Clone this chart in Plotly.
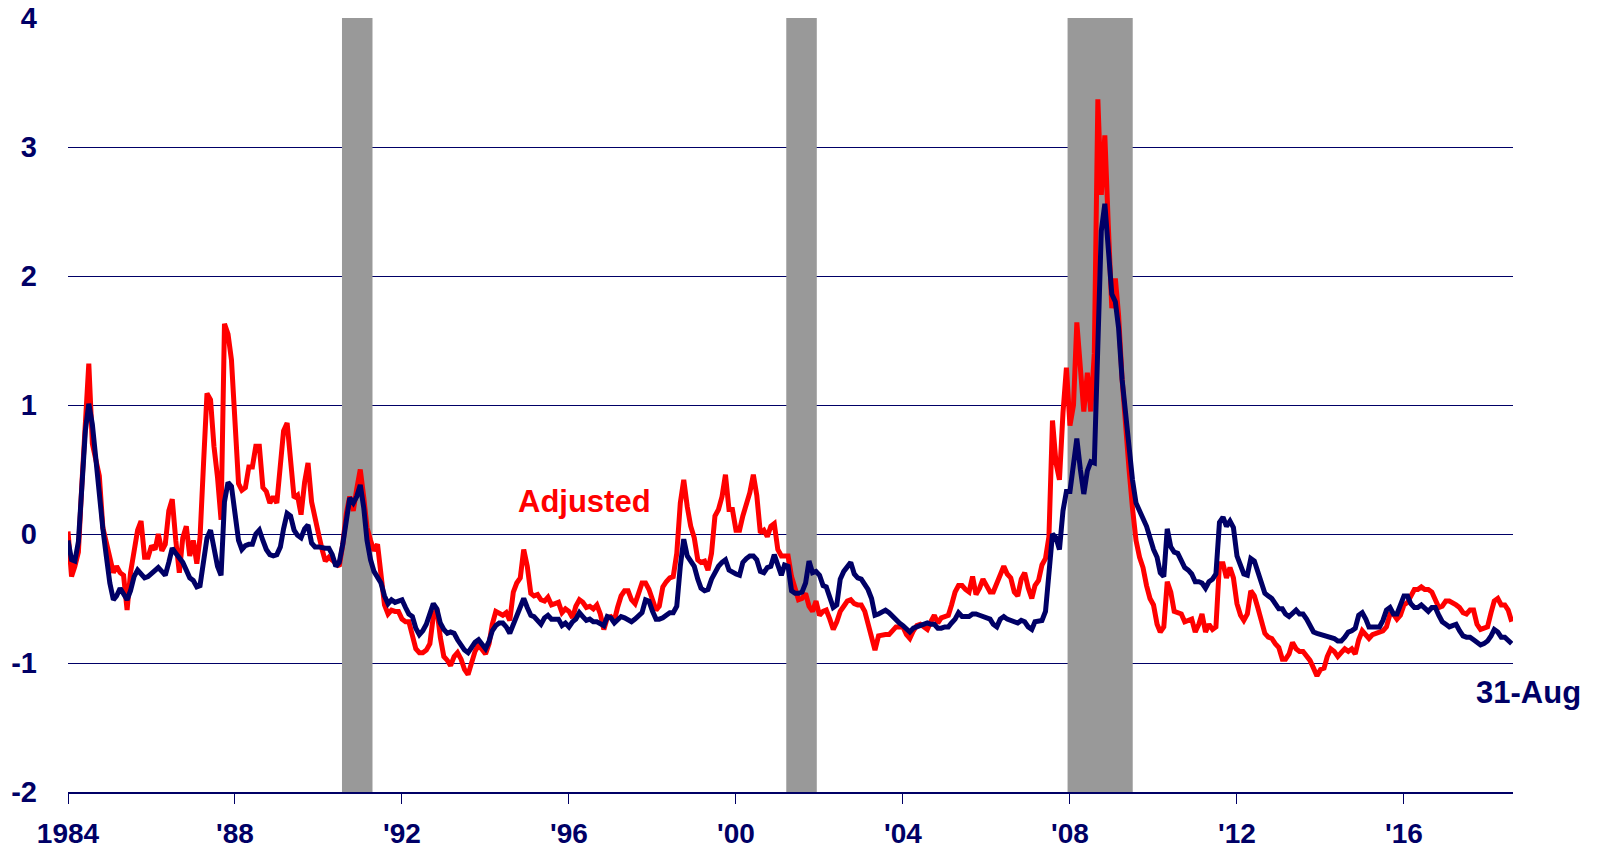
import pandas as pd
import plotly.graph_objects as go

# Monthly values, Jan 1984 - Aug 2018
adjusted = [
    # 1984
    0.02, -0.33, -0.25, -0.14, 0.38, 0.85, 1.32, 0.70, 0.57, 0.45, 0.05, -0.07,
    # 1985
    -0.15, -0.30, -0.25, -0.30, -0.32, -0.59, -0.30, -0.10, 0.03, 0.10, -0.18, -0.18,
    # 1986
    -0.09, -0.12, 0.00, -0.13, -0.08, 0.18, 0.27, -0.05, -0.30, -0.03, 0.06, -0.17,
    # 1987
    -0.05, -0.23, -0.03, 0.55, 1.09, 1.04, 0.68, 0.44, 0.11, 1.63, 1.55, 1.35,
    # 1988
    0.90, 0.39, 0.34, 0.36, 0.52, 0.52, 0.68, 0.68, 0.36, 0.33, 0.24, 0.29,
    # 1989
    0.24, 0.55, 0.80, 0.86, 0.55, 0.28, 0.30, 0.15, 0.40, 0.55, 0.25, 0.11,
    # 1990
    0.00, -0.12, -0.21, -0.18, -0.20, -0.23, -0.25, -0.08, 0.16, 0.29, 0.18, 0.35,
    # 1991
    0.50, 0.28, 0.05, -0.05, -0.13, -0.08, -0.30, -0.55, -0.62, -0.59, -0.60, -0.60,
    # 1992
    -0.66, -0.68, -0.68, -0.78, -0.89, -0.92, -0.92, -0.90, -0.85, -0.64, -0.58, -0.80,
    # 1993
    -0.95, -0.98, -1.02, -0.95, -0.92, -0.97, -1.05, -1.09, -0.98, -0.91, -0.86, -0.90,
    # 1994
    -0.93, -0.85, -0.70, -0.60, -0.62, -0.63, -0.61, -0.67, -0.45, -0.38, -0.34, -0.12,
    # 1995
    -0.25, -0.46, -0.48, -0.47, -0.51, -0.52, -0.49, -0.55, -0.54, -0.53, -0.61, -0.58,
    # 1996
    -0.60, -0.65, -0.56, -0.51, -0.53, -0.57, -0.56, -0.58, -0.55, -0.62, -0.74, -0.65,
    # 1997
    -0.64, -0.67, -0.57, -0.48, -0.44, -0.44, -0.51, -0.54, -0.46, -0.38, -0.38, -0.43,
    # 1998
    -0.51, -0.59, -0.56, -0.41, -0.37, -0.34, -0.33, -0.15, 0.24, 0.42, 0.21, 0.06,
    # 1999
    -0.03, -0.20, -0.22, -0.21, -0.28, -0.15, 0.14, 0.19, 0.29, 0.46, 0.19, 0.19,
    # 2000
    0.03, 0.03, 0.14, 0.23, 0.32, 0.46, 0.30, 0.01, 0.03, -0.02, 0.06, 0.08,
    # 2001
    -0.12, -0.17, -0.17, -0.17, -0.33, -0.44, -0.51, -0.50, -0.46, -0.56, -0.60, -0.52,
    # 2002
    -0.63, -0.60, -0.59, -0.66, -0.74, -0.68, -0.60, -0.56, -0.52, -0.51, -0.54, -0.55,
    # 2003
    -0.55, -0.60, -0.70, -0.82, -0.90, -0.79, -0.78, -0.78, -0.78, -0.75, -0.72, -0.72,
    # 2004
    -0.72, -0.78, -0.81, -0.75, -0.71, -0.70, -0.72, -0.74, -0.68, -0.63, -0.69, -0.65,
    # 2005
    -0.64, -0.63, -0.55, -0.45, -0.40, -0.40, -0.43, -0.45, -0.33, -0.47, -0.42, -0.35,
    # 2006
    -0.40, -0.45, -0.45, -0.38, -0.31, -0.25, -0.31, -0.34, -0.45, -0.48, -0.35, -0.30,
    # 2007
    -0.42, -0.50, -0.40, -0.36, -0.24, -0.19, -0.02, 0.88, 0.55, 0.42, 0.94, 1.29,
    # 2008
    0.84, 1.00, 1.64, 1.30, 0.95, 1.25, 0.95, 1.40, 3.37, 2.63, 3.09, 2.40,
    # 2009
    1.75, 1.98, 1.70, 1.20, 0.80, 0.50, 0.20, -0.05, -0.18, -0.26, -0.40, -0.50,
    # 2010
    -0.55, -0.70, -0.76, -0.72, -0.37, -0.45, -0.60, -0.61, -0.62, -0.68, -0.67, -0.66,
    # 2011
    -0.76, -0.70, -0.62, -0.76, -0.70, -0.74, -0.72, -0.23, -0.23, -0.34, -0.26, -0.34,
    # 2012
    -0.54, -0.63, -0.67, -0.62, -0.44, -0.48, -0.57, -0.67, -0.77, -0.80, -0.81, -0.85,
    # 2013
    -0.88, -0.97, -0.97, -0.93, -0.84, -0.89, -0.91, -0.91, -0.94, -0.98, -1.04, -1.10,
    # 2014
    -1.05, -1.04, -0.95, -0.89, -0.91, -0.95, -0.92, -0.89, -0.91, -0.89, -0.93, -0.82,
    # 2015
    -0.75, -0.78, -0.81, -0.78, -0.77, -0.76, -0.75, -0.72, -0.62, -0.62, -0.66, -0.63,
    # 2016
    -0.55, -0.53, -0.49, -0.43, -0.43, -0.41, -0.43, -0.43, -0.45, -0.50, -0.57, -0.56,
    # 2017
    -0.52, -0.52, -0.54, -0.55, -0.57, -0.61, -0.62, -0.59, -0.59, -0.70, -0.74, -0.73,
    # 2018
    -0.72, -0.61, -0.52, -0.50, -0.55, -0.55, -0.59, -0.68,
]

unadjusted = [
    # 1984
    -0.05, -0.20, -0.21, -0.06, 0.36, 0.80, 1.01, 0.85, 0.58, 0.26, 0.04, -0.17,
    # 1985
    -0.38, -0.51, -0.48, -0.42, -0.46, -0.51, -0.44, -0.33, -0.28, -0.31, -0.34, -0.33,
    # 1986
    -0.31, -0.29, -0.26, -0.29, -0.32, -0.22, -0.11, -0.15, -0.19, -0.22, -0.28, -0.34,
    # 1987
    -0.36, -0.41, -0.40, -0.20, -0.03, 0.03, -0.10, -0.25, -0.32, 0.25, 0.40, 0.37,
    # 1988
    0.16, -0.05, -0.12, -0.09, -0.08, -0.08, 0.00, 0.03, -0.05, -0.12, -0.16, -0.17,
    # 1989
    -0.16, -0.10, 0.04, 0.16, 0.14, 0.03, -0.01, -0.03, 0.04, 0.07, -0.07, -0.10,
    # 1990
    -0.10, -0.11, -0.11, -0.11, -0.16, -0.25, -0.22, -0.08, 0.11, 0.28, 0.24, 0.29,
    # 1991
    0.38, 0.20, -0.05, -0.20, -0.29, -0.33, -0.38, -0.48, -0.54, -0.51, -0.53, -0.52,
    # 1992
    -0.51, -0.57, -0.62, -0.64, -0.73, -0.78, -0.75, -0.70, -0.63, -0.54, -0.58, -0.69,
    # 1993
    -0.74, -0.77, -0.76, -0.77, -0.82, -0.87, -0.90, -0.92, -0.88, -0.84, -0.82, -0.86,
    # 1994
    -0.89, -0.83, -0.75, -0.71, -0.69, -0.69, -0.72, -0.77, -0.70, -0.64, -0.56, -0.50,
    # 1995
    -0.57, -0.63, -0.64, -0.67, -0.70, -0.65, -0.63, -0.66, -0.66, -0.66, -0.71, -0.69,
    # 1996
    -0.72, -0.68, -0.66, -0.61, -0.64, -0.67, -0.66, -0.68, -0.68, -0.70, -0.71, -0.64,
    # 1997
    -0.65, -0.69, -0.67, -0.64, -0.65, -0.67, -0.68, -0.66, -0.64, -0.61, -0.51, -0.52,
    # 1998
    -0.60, -0.66, -0.66, -0.65, -0.63, -0.61, -0.61, -0.56, -0.25, -0.04, -0.17, -0.21,
    # 1999
    -0.25, -0.35, -0.42, -0.44, -0.43, -0.35, -0.29, -0.25, -0.22, -0.20, -0.28, -0.30,
    # 2000
    -0.31, -0.32, -0.22, -0.19, -0.17, -0.17, -0.20, -0.29, -0.30, -0.26, -0.25, -0.16,
    # 2001
    -0.24, -0.32, -0.24, -0.25, -0.44, -0.46, -0.46, -0.45, -0.38, -0.21, -0.30, -0.29,
    # 2002
    -0.32, -0.40, -0.41, -0.48, -0.57, -0.55, -0.35, -0.29, -0.25, -0.22, -0.31, -0.34,
    # 2003
    -0.35, -0.39, -0.43, -0.50, -0.63, -0.62, -0.60, -0.59, -0.61, -0.64, -0.66, -0.69,
    # 2004
    -0.71, -0.74, -0.76, -0.73, -0.72, -0.70, -0.69, -0.69, -0.70, -0.70, -0.73, -0.73,
    # 2005
    -0.72, -0.72, -0.69, -0.66, -0.61, -0.64, -0.64, -0.64, -0.62, -0.62, -0.63, -0.64,
    # 2006
    -0.65, -0.66, -0.70, -0.72, -0.66, -0.64, -0.66, -0.67, -0.67, -0.69, -0.67, -0.68,
    # 2007
    -0.72, -0.74, -0.68, -0.67, -0.67, -0.60, -0.30, 0.00, -0.03, -0.12, 0.18, 0.33,
    # 2008
    0.33, 0.55, 0.74, 0.50, 0.31, 0.49, 0.56, 0.55, 1.60, 2.35, 2.56, 2.25,
    # 2009
    1.86, 1.80, 1.60, 1.20, 0.92, 0.72, 0.42, 0.24, 0.17, 0.12, 0.06, -0.04,
    # 2010
    -0.12, -0.18, -0.30, -0.33, 0.04, -0.10, -0.14, -0.15, -0.20, -0.26, -0.28, -0.31,
    # 2011
    -0.37, -0.37, -0.38, -0.42, -0.37, -0.35, -0.31, 0.09, 0.13, 0.06, 0.10, 0.05,
    # 2012
    -0.17, -0.25, -0.31, -0.32, -0.19, -0.21, -0.30, -0.36, -0.46, -0.48, -0.50, -0.54,
    # 2013
    -0.58, -0.58, -0.62, -0.64, -0.62, -0.59, -0.62, -0.62, -0.66, -0.72, -0.76, -0.77,
    # 2014
    -0.78, -0.79, -0.80, -0.80, -0.81, -0.83, -0.83, -0.80, -0.76, -0.75, -0.73, -0.63,
    # 2015
    -0.61, -0.66, -0.72, -0.72, -0.72, -0.72, -0.67, -0.59, -0.57, -0.62, -0.62, -0.55,
    # 2016
    -0.48, -0.48, -0.54, -0.57, -0.57, -0.55, -0.57, -0.60, -0.57, -0.57, -0.63, -0.68,
    # 2017
    -0.70, -0.72, -0.71, -0.70, -0.75, -0.79, -0.80, -0.80, -0.82, -0.84, -0.86, -0.85,
    # 2018
    -0.83, -0.79, -0.74, -0.76, -0.80, -0.80, -0.82, -0.85,
]

dates = pd.date_range("1984-01-01", periods=len(adjusted), freq="MS")

recession_starts = ["1990-07-25", "2001-03-16", "2007-12-11"]
recession_ends = ["1991-04-18", "2001-12-08", "2009-07-03"]

x_tick_vals = ["1984-01-01", "1988-01-01", "1992-01-01", "1996-01-01", "2000-01-01",
               "2004-01-01", "2008-01-01", "2012-01-01", "2016-01-01"]
x_tick_text = ["1984", "'88", "'92", "'96", "'00", "'04", "'08", "'12", "'16"]
y_tick_vals = [-2, -1, 0, 1, 2, 3, 4]
y_tick_text = ["-2", "-1", "0", "1", "2", "3", "4"]

NAVY = "#000066"
RED = "#FF0000"
YTICKFONT = dict(family="Liberation Sans", size=29, color=NAVY, weight="bold")
XTICKFONT = dict(family="Liberation Sans", size=28, color=NAVY, weight="bold")

fig = go.Figure()
fig.add_trace(go.Scatter(x=dates, y=adjusted, mode="lines", name="Adjusted",
                         line=dict(color=RED, width=5)))
fig.add_trace(go.Scatter(x=dates, y=unadjusted, mode="lines", name="Unadjusted",
                         line=dict(color=NAVY, width=5)))

for s, e in zip(recession_starts, recession_ends):
    fig.add_shape(type="rect", xref="x", yref="y", x0=s, x1=e, y0=-2, y1=4,
                  fillcolor="#999999", line=dict(width=0), layer="between")

fig.add_annotation(x="1996-05-18", y=0.25, xref="x", yref="y", text="Adjusted",
                   showarrow=False, xanchor="center", yanchor="middle",
                   font=dict(family="Liberation Sans", size=31, color=RED, weight="bold"))
fig.add_annotation(x=1.0108, y=-1.23, xref="paper", yref="y", text="31-Aug",
                   showarrow=False, xanchor="center", yanchor="middle",
                   font=dict(family="Liberation Sans", size=31, color=NAVY, weight="bold"))

fig.update_layout(
    width=1598, height=848,
    margin=dict(l=68, r=85, t=18, b=56, pad=0),
    paper_bgcolor="white", plot_bgcolor="white",
    showlegend=False,
    xaxis=dict(type="date", range=["1984-01-01", "2018-08-12"],
               tickvals=x_tick_vals, ticktext=x_tick_text,
               ticks="outside", ticklen=10, tickwidth=1, tickcolor=NAVY,
               showline=True, linecolor=NAVY, linewidth=2,
               showgrid=False, zeroline=False, tickfont=XTICKFONT,
               ticklabelstandoff=5, automargin=False, ticklabeloverflow="allow"),
    yaxis=dict(range=[-2, 4], tickvals=y_tick_vals, ticktext=y_tick_text,
               showgrid=True, gridcolor=NAVY, gridwidth=1,
               zeroline=False, showline=False, ticks="",
               tickfont=YTICKFONT, ticklabelstandoff=30, automargin=False,
               ticklabeloverflow="allow"),
)

# remove the default 8px page margin so the figure sits at the window's corner
fig.write_html("out.html",
               config={"displayModeBar": False},
               post_script="document.body.style.margin='0';document.body.style.overflow='hidden';")
